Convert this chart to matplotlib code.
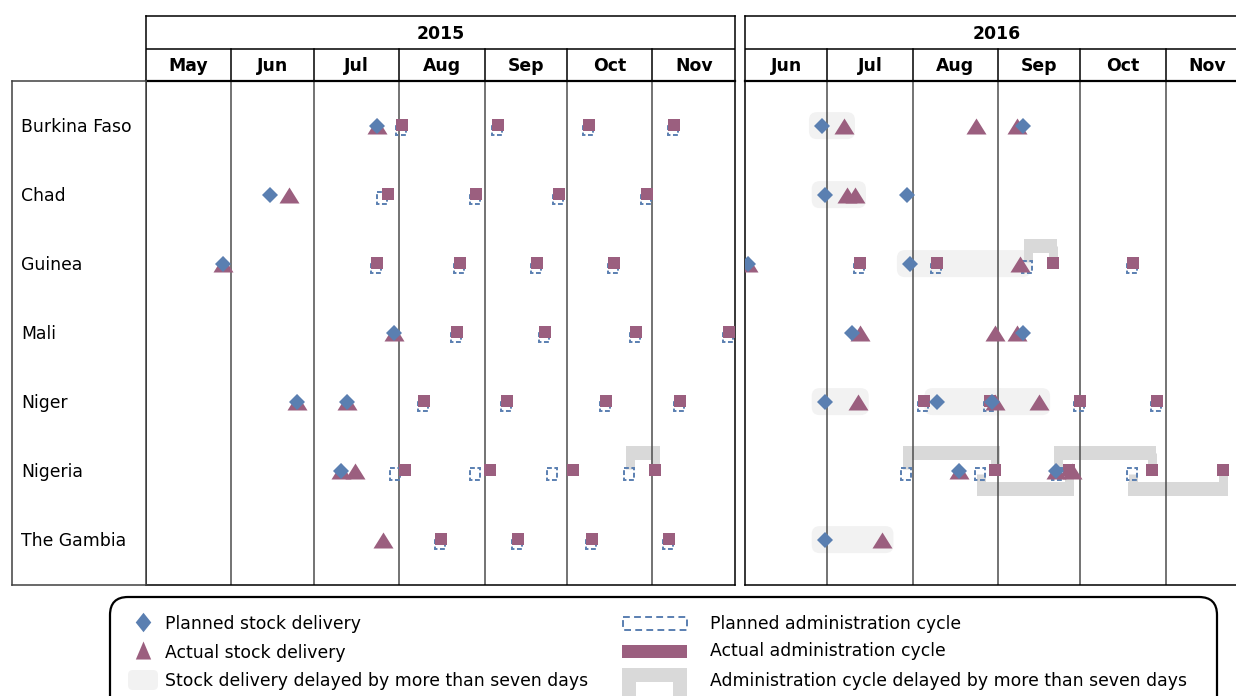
import matplotlib
matplotlib.use("Agg")
import matplotlib.pyplot as plt
import matplotlib.dates as mdates
from matplotlib.patches import FancyBboxPatch, Rectangle, Polygon
from matplotlib.path import Path
import datetime as dt
import pandas as pd

plt.rcParams['font.family'] = ['DejaVu Sans']

# ---------------- data ----------------
countries = ["Burkina Faso", "Chad", "Guinea", "Mali", "Niger", "Nigeria", "The Gambia"]
panel_years = [2015, 2016]
panel_start = ["2015-05-01", "2016-06-01"]
panel_end = ["2015-12-01", "2016-12-01"]
months_2015 = ["May", "Jun", "Jul", "Aug", "Sep", "Oct", "Nov"]
months_2016 = ["Jun", "Jul", "Aug", "Sep", "Oct", "Nov"]

# stock deliveries: (country, planned, actual)
stock_2015 = [
    ("Burkina Faso", "2015-07-24", "2015-07-24"),
    ("Chad", "2015-06-15", "2015-06-22"),
    ("Guinea", "2015-05-29", "2015-05-29"),
    ("Mali", "2015-07-30", "2015-07-30"),
    ("Niger", "2015-06-25", "2015-06-25"),
    ("Niger", "2015-07-13", "2015-07-13"),
    ("Nigeria", "2015-07-11", "2015-07-11"),
    ("Nigeria", None, "2015-07-16"),
    ("The Gambia", None, "2015-07-26"),
]
stock_2016 = [
    ("Burkina Faso", "2016-06-29", "2016-07-07"),
    ("Burkina Faso", None, "2016-08-24"),
    ("Burkina Faso", "2016-09-10", "2016-09-08"),
    ("Chad", "2016-06-30", "2016-07-11"),
    ("Chad", None, "2016-07-08"),
    ("Chad", "2016-07-30", None),
    ("Guinea", "2016-06-02", "2016-06-02"),
    ("Guinea", "2016-07-31", "2016-09-09"),
    ("Mali", "2016-07-10", "2016-07-13"),
    ("Mali", None, "2016-08-31"),
    ("Mali", "2016-09-10", "2016-09-08"),
    ("Niger", "2016-06-30", "2016-07-12"),
    ("Niger", "2016-08-10", "2016-08-31"),
    ("Niger", "2016-08-30", "2016-09-16"),
    ("Nigeria", "2016-08-18", "2016-08-18"),
    ("Nigeria", "2016-09-22", "2016-09-22"),
    ("Nigeria", None, "2016-09-28"),
    ("The Gambia", "2016-06-30", "2016-07-21"),
]

# administration cycles: (country, planned, actual)
admin_2015 = [
    ("Burkina Faso", "2015-08-02", "2015-08-02"), ("Burkina Faso", "2015-09-06", "2015-09-06"),
    ("Burkina Faso", "2015-10-09", "2015-10-09"), ("Burkina Faso", "2015-11-09", "2015-11-09"),
    ("Chad", "2015-07-26", "2015-07-28"), ("Chad", "2015-08-29", "2015-08-29"),
    ("Chad", "2015-09-28", "2015-09-28"), ("Chad", "2015-10-30", "2015-10-30"),
    ("Guinea", "2015-07-24", "2015-07-24"), ("Guinea", "2015-08-23", "2015-08-23"),
    ("Guinea", "2015-09-20", "2015-09-20"), ("Guinea", "2015-10-18", "2015-10-18"),
    ("Mali", "2015-08-22", "2015-08-22"), ("Mali", "2015-09-23", "2015-09-23"),
    ("Mali", "2015-10-26", "2015-10-26"), ("Mali", "2015-11-29", "2015-11-29"),
    ("Niger", "2015-08-10", "2015-08-10"), ("Niger", "2015-09-09", "2015-09-09"),
    ("Niger", "2015-10-15", "2015-10-15"), ("Niger", "2015-11-11", "2015-11-11"),
    ("Nigeria", "2015-07-31", "2015-08-03"), ("Nigeria", "2015-08-29", "2015-09-03"),
    ("Nigeria", "2015-09-26", "2015-10-03"), ("Nigeria", "2015-10-24", "2015-11-02"),
    ("The Gambia", "2015-08-16", "2015-08-16"), ("The Gambia", "2015-09-13", "2015-09-13"),
    ("The Gambia", "2015-10-10", "2015-10-10"), ("The Gambia", "2015-11-07", "2015-11-07"),
]
admin_2016 = [
    ("Guinea", "2016-07-13", "2016-07-13"), ("Guinea", "2016-08-10", "2016-08-10"),
    ("Guinea", "2016-09-12", "2016-09-21"), ("Guinea", "2016-10-20", "2016-10-20"),
    ("Niger", "2016-08-05", "2016-08-05"), ("Niger", "2016-08-29", "2016-08-29"),
    ("Niger", "2016-10-01", "2016-10-01"), ("Niger", "2016-10-29", "2016-10-29"),
    ("Nigeria", "2016-07-30", "2016-08-31"), ("Nigeria", "2016-08-26", "2016-09-27"),
    ("Nigeria", "2016-09-23", "2016-10-27"), ("Nigeria", "2016-10-20", "2016-11-22"),
]

legend_left = ["Planned stock delivery", "Actual stock delivery",
               "Stock delivery delayed by more than seven days"]
legend_right = ["Planned administration cycle", "Actual administration cycle",
                "Administration cycle delayed by more than seven days"]

# ---------------- style ----------------
BLUE = "#5a7fb1"
PURPLE = "#9b5f7f"
LIGHT = "#f2f2f2"
GRAY = "#d9d9d9"
LINE = "#4d4d4d"
PX = 0.72  # points per pixel at 100 dpi
FS = 12.4

W, H = 1236, 696
BODY_TOP, BODY_BOT = 81, 585
HEAD_TOP = 16
Y_TOP, Y_BOT = -0.667, 6.638
panel_px = [(146, 735), (745, 1248)]

fig = plt.figure(figsize=(W / 100, H / 100), dpi=100)


def fr(x0, y0, x1, y1):
    return [x0 / W, 1 - y1 / H, (x1 - x0) / W, (y1 - y0) / H]


def d(s):
    return mdates.date2num(dt.date.fromisoformat(s))


tri_path = Path([(-1, -0.8), (1, -0.8), (0, 0.8), (-1, -0.8)],
                [Path.MOVETO, Path.LINETO, Path.LINETO, Path.CLOSEPOLY])

stocks = [stock_2015, stock_2016]
admins = [admin_2015, admin_2016]
month_labels = [months_2015, months_2016]

for p, (x0, x1) in enumerate(panel_px):
    t0, t1 = d(panel_start[p]), d(panel_end[p])
    ax = fig.add_axes(fr(x0, BODY_TOP, x1, BODY_BOT))
    ax.set_xlim(t0, t1)
    ax.set_ylim(Y_BOT, Y_TOP)
    ax.set_xticks([]); ax.set_yticks([])
    for s in ax.spines.values():
        s.set_linewidth(1.1); s.set_color("black")
    ppd = (x1 - x0) / (t1 - t0)
    ppr = (BODY_BOT - BODY_TOP) / (Y_BOT - Y_TOP)

    mstarts = [mdates.date2num(t) for t in pd.date_range(panel_start[p], panel_end[p], freq="MS")]
    for m in mstarts[1:-1]:
        ax.axvline(m, color=LINE, lw=1.1, zorder=2)

    # stock delay boxes
    for c, pl, ac in stocks[p]:
        if pl and ac and d(ac) - d(pl) > 7:
            r = countries.index(c)
            xa, xb = d(pl) - 13 / ppd, d(ac) + 11 / ppd
            hh = 13.5 / ppr
            ax.add_patch(FancyBboxPatch((xa, r - 0.02 - hh), xb - xa, 2 * hh,
                                        boxstyle=f"round,pad=0,rounding_size={8 / ppd}",
                                        mutation_aspect=ppd / ppr, fc=LIGHT, ec="none", zorder=1))

    # admin delay brackets
    counter = {}
    for c, pl, ac in admins[p]:
        if d(ac) - d(pl) > 7:
            r = countries.index(c)
            k = counter.get(c, 0); counter[c] = k + 1
            up = (k % 2 == 0)
            yb = r - 0.28 if up else r + 0.25
            ys = r - 0.05 if up else r + 0.03
            for xx in (d(pl), d(ac)):
                ax.plot([xx, xx], [ys, yb], color=GRAY, lw=9 * PX, solid_capstyle="butt", zorder=1.5)
            ax.plot([d(pl) - 4.5 / ppd, d(ac) + 4.5 / ppd], [yb, yb], color=GRAY, lw=14 * PX,
                    solid_capstyle="butt", zorder=1.5)

    # administration cycles
    w, h = 10 / ppd, 12 / ppr
    for c, pl, ac in admins[p]:
        r = countries.index(c)
        if pl:
            ax.add_patch(Rectangle((d(pl) - w / 2 - 1.0 / ppd, r + 0.035 - h / 2), w, h, fill=False,
                                   ec=BLUE, lw=1.4, ls=(0, (2.5, 1.3)), zorder=3))
        if ac:
            ax.plot(d(ac), r - 0.035, marker="s", ms=9, color=PURPLE, mew=0, zorder=4)

    # stock deliveries
    for c, pl, ac in stocks[p]:
        r = countries.index(c)
        if ac:
            ax.plot(d(ac), r - 0.02, marker=tri_path, ms=14.4, color=PURPLE, mew=0, zorder=5)
        if pl:
            ax.plot(d(pl), r - 0.02, marker="D", ms=8.6, color=BLUE, mew=0, zorder=6)

    # header
    hx = fig.add_axes(fr(x0, HEAD_TOP, x1, BODY_TOP))
    hx.set_xlim(t0, t1); hx.set_ylim(0, 2)
    hx.set_xticks([]); hx.set_yticks([])
    for s in hx.spines.values():
        s.set_linewidth(1.1); s.set_color("black")
    hx.spines["bottom"].set_linewidth(1.6)
    hx.axhline(1, color="black", lw=1.1)
    for m in mstarts[1:-1]:
        hx.plot([m, m], [0, 1], color="black", lw=1.1)
    for i, lab in enumerate(month_labels[p]):
        hx.text((mstarts[i] + mstarts[i + 1]) / 2, 0.46, lab, ha="center", va="center",
                fontsize=FS, fontweight="bold")
    hx.text((t0 + t1) / 2, 1.44, str(panel_years[p]), ha="center", va="center",
            fontsize=FS, fontweight="bold")

# country labels column
lx = fig.add_axes(fr(12, BODY_TOP, 146, BODY_BOT))
lx.set_xlim(0, 1); lx.set_ylim(Y_BOT, Y_TOP)
lx.set_xticks([]); lx.set_yticks([])
for s in lx.spines.values():
    s.set_linewidth(1.1); s.set_color("#404040")
for i, c in enumerate(countries):
    lx.text(0.07, i, c, va="center", ha="left", fontsize=FS)

# legend (pixel coordinates overlay)
lg = fig.add_axes([0, 0, 1, 1])
lg.set_xlim(0, W); lg.set_ylim(H, 0); lg.axis("off")
lg.add_patch(FancyBboxPatch((110, 597), 1107, 130, boxstyle="round,pad=0,rounding_size=18",
                            fc="white", ec="black", lw=1.6))
dia_path = Path([(0, 1), (0.8, 0), (0, -1), (-0.8, 0), (0, 1)],
                [Path.MOVETO, Path.LINETO, Path.LINETO, Path.LINETO, Path.CLOSEPOLY])
tri_tall = Path([(-0.85, -1), (0.85, -1), (0, 1), (-0.85, -1)],
                [Path.MOVETO, Path.LINETO, Path.LINETO, Path.CLOSEPOLY])
lg.plot(143, 622, marker=dia_path, ms=14, color=BLUE, mew=0)
lg.plot(143, 650, marker=tri_tall, ms=13, color=PURPLE, mew=0)
lg.add_patch(FancyBboxPatch((128, 670), 30, 20, boxstyle="round,pad=0,rounding_size=5",
                            fc=LIGHT, ec="none"))
lg.add_patch(Rectangle((623, 617), 64, 13, fill=False, ec=BLUE, lw=1.4, ls=(0, (3.5, 2.2))))
lg.add_patch(Rectangle((622, 645), 65, 13, fc=PURPLE, ec="none"))
lg.add_patch(Polygon([(622, 696), (622, 668), (687, 668), (687, 696), (673, 696), (673, 682),
                      (636, 682), (636, 696)], closed=True, fc=GRAY, ec="none"))
for i, t in enumerate(legend_left):
    lg.text(165, [624, 653, 681][i], t, va="center", ha="left", fontsize=FS)
for i, t in enumerate(legend_right):
    lg.text(710, [624, 651, 681][i], t, va="center", ha="left", fontsize=FS)

fig.savefig("out.png", dpi=100)
